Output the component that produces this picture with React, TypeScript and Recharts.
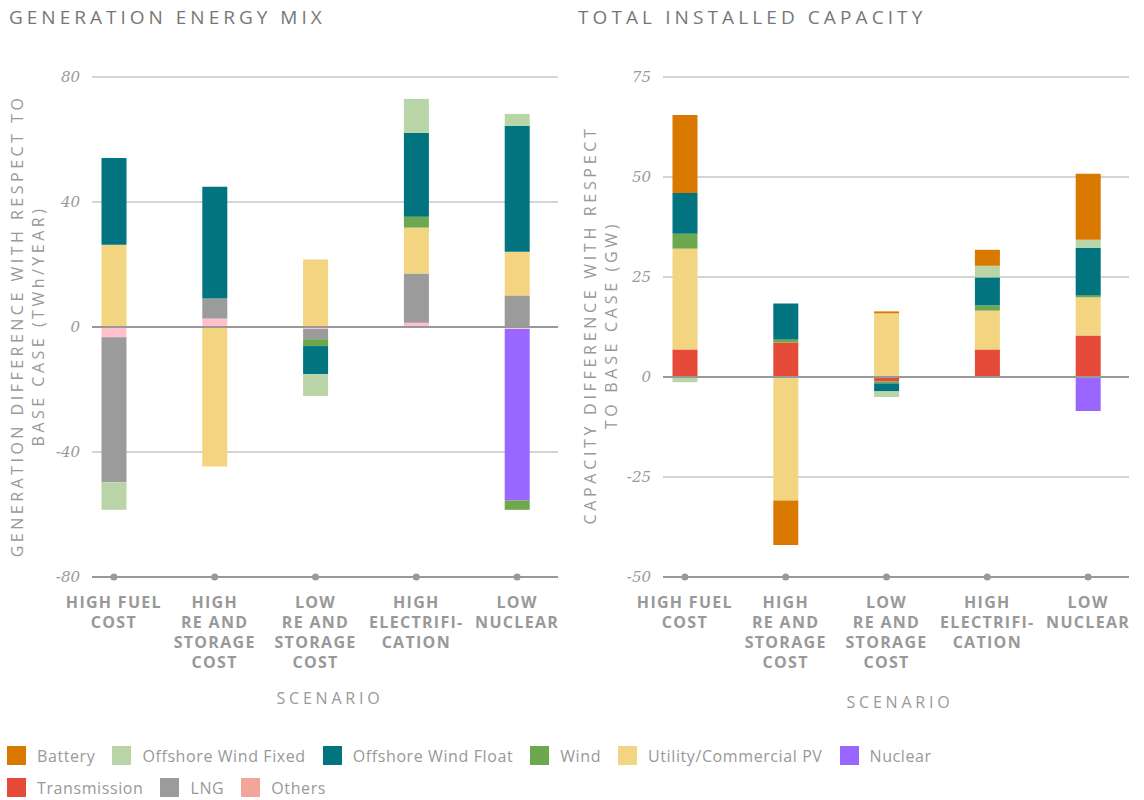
import { BarChart, Bar, XAxis, YAxis, CartesianGrid, ReferenceLine } from 'recharts'

const scenarios = ['HIGH FUEL COST', 'HIGH RE AND STORAGE COST', 'LOW RE AND STORAGE COST', 'HIGH ELECTRIFICATION', 'LOW NUCLEAR']
const scenarioLines = [
  ['HIGH FUEL', 'COST'],
  ['HIGH', 'RE AND', 'STORAGE', 'COST'],
  ['LOW', 'RE AND', 'STORAGE', 'COST'],
  ['HIGH', 'ELECTRIFI-', 'CATION'],
  ['LOW', 'NUCLEAR'],
]

// generation energy mix, TWh/year vs base case
const genOthers = [-3.3, 2.7, -0.6, 1.4, -0.6]
const genLng = [-46.4, 6.4, -3.3, 15.7, 10.1]
const genNuclear = [0, 0, 0, 0, -54.9]
const genPv = [26.3, -44.6, 21.6, 14.7, 14.0]
const genWind = [0, 0, -2.2, 3.5, -3.0]
const genFloat = [27.8, 35.8, -9.0, 26.8, 40.3]
const genFixed = [-8.8, 0, -7.0, 10.9, 3.8]
const genTicks = [-80, -40, 0, 40, 80]

// installed capacity, GW vs base case
const capTransmission = [6.9, 8.6, -1.1, 6.9, 10.4]
const capNuclear = [0, 0, 0, 0, -8.5]
const capPv = [25.2, -30.9, 15.9, 9.7, 9.5]
const capWind = [3.7, 0.8, -0.5, 1.3, 0.5]
const capFloat = [10.2, 9.0, -2.0, 7.0, 11.9]
const capFixed = [-1.3, 0, -1.4, 2.9, 2.0]
const capBattery = [19.5, -11.1, 0.5, 4.0, 16.5]
const capTicks = [-50, -25, 0, 25, 50, 75]

const COLORS = {
  battery: '#d97900',
  fixed: '#b9d5a8',
  float: '#017480',
  wind: '#6ea84e',
  pv: '#f3d480',
  nuclear: '#9966ff',
  transmission: '#e54b38',
  lng: '#9b9b9b',
  others: '#ffc0cb',
}

const legendItems = [
  [
    { name: 'Battery', color: COLORS.battery },
    { name: 'Offshore Wind Fixed', color: COLORS.fixed },
    { name: 'Offshore Wind Float', color: COLORS.float },
    { name: 'Wind', color: COLORS.wind },
    { name: 'Utility/Commercial PV', color: COLORS.pv },
    { name: 'Nuclear', color: COLORS.nuclear },
  ],
  [
    { name: 'Transmission', color: COLORS.transmission },
    { name: 'LNG', color: COLORS.lng },
    { name: 'Others', color: '#f4a59a' },
  ],
]

const SANS = '"Open Sans", Lato, sans-serif'
const SERIF = '"DejaVu Serif", "Liberation Serif", serif'

const genData = scenarios.map((s, i) => ({
  name: s,
  others: genOthers[i], lng: genLng[i], nuclear: genNuclear[i], pv: genPv[i],
  wind: genWind[i], float: genFloat[i], fixed: genFixed[i],
}))

const capData = scenarios.map((s, i) => ({
  name: s,
  transmission: capTransmission[i], nuclear: capNuclear[i], pv: capPv[i], wind: capWind[i],
  float: capFloat[i], fixed: capFixed[i], battery: capBattery[i],
}))

function ScenarioTick({ x, y, payload }: any) {
  const lines = scenarioLines[scenarios.indexOf(payload.value)] || []
  return (
    <g>
      <circle cx={x} cy={y} r={3.5} fill="#999" />
      <text x={x} y={y + 31} textAnchor="middle" fontFamily={SANS} fontWeight={700} fontSize={16} letterSpacing={1.3} fill="#999">
        {lines.map((l, i) => (
          <tspan key={i} x={x} dy={i === 0 ? 0 : 20}>{l}</tspan>
        ))}
      </text>
    </g>
  )
}

function StackChart({ data, keys, domain, ticks }: { data: any[]; keys: string[]; domain: [number, number]; ticks: number[] }) {
  return (
    <BarChart
      width={580}
      height={720}
      data={data}
      stackOffset="sign"
      margin={{ top: 77, right: 22, bottom: 0, left: 0 }}
      barSize={25}
    >
      <CartesianGrid vertical={false} stroke="#aaa" />
      <XAxis
        dataKey="name"
        height={143}
        padding={{ left: -28.5, right: -9.5 }}
        axisLine={{ stroke: '#999', strokeWidth: 2 }}
        tickLine={false}
        tickSize={0}
        tickMargin={0}
        interval={0}
        tick={<ScenarioTick />}
      />
      <YAxis
        width={92}
        domain={domain}
        ticks={ticks}
        axisLine={false}
        tickLine={false}
        tickMargin={6}
        tick={{ fill: '#999', fontSize: 15, fontStyle: 'italic', fontFamily: SERIF }}
      />
      {keys.map(k => (
        <Bar key={k} dataKey={k} stackId="a" fill={(COLORS as any)[k]} isAnimationActive={false} />
      ))}
      <ReferenceLine y={0} stroke="#999" strokeWidth={2} />
    </BarChart>
  )
}

export default function App() {
  return (
    <div style={{ position: 'absolute', left: 0, top: 0, width: 1144, height: 800, background: '#fff', fontFamily: SANS }}>
      <div style={{ position: 'absolute', left: 0, top: 0 }}>
        <StackChart data={genData} keys={['others', 'lng', 'nuclear', 'pv', 'wind', 'float', 'fixed']} domain={[-80, 80]} ticks={genTicks} />
      </div>
      <div style={{ position: 'absolute', left: 571, top: 0 }}>
        <StackChart data={capData} keys={['transmission', 'nuclear', 'pv', 'wind', 'float', 'fixed', 'battery']} domain={[-50, 75]} ticks={capTicks} />
      </div>

      <svg width={1144} height={800} style={{ position: 'absolute', left: 0, top: 0, pointerEvents: 'none' }}>
        <g fontFamily={SANS} fill="#777">
          <text x={9} y={24} fontSize={19} letterSpacing={4}>GENERATION ENERGY MIX</text>
          <text x={578} y={24} fontSize={19} letterSpacing={4.1}>TOTAL INSTALLED CAPACITY</text>
        </g>
        <g fontFamily={SANS} fill="#999" fontSize={16} textAnchor="middle">
          <text transform="translate(23 326) rotate(-90)" letterSpacing={3.5}>GENERATION DIFFERENCE WITH RESPECT TO</text>
          <text transform="translate(44 326) rotate(-90)" letterSpacing={3.5}>BASE CASE (TWh/YEAR)</text>
          <text transform="translate(596 325) rotate(-90)" letterSpacing={3.7}>CAPACITY DIFFERENCE WITH RESPECT</text>
          <text transform="translate(617 325) rotate(-90)" letterSpacing={3.7}>TO BASE CASE (GW)</text>
          <text x={330} y={704} letterSpacing={3.8}>SCENARIO</text>
          <text x={900} y={708} letterSpacing={3.8}>SCENARIO</text>
        </g>
      </svg>

      <div style={{ position: 'absolute', left: 7, top: 746 }}>
        {legendItems.map((row, r) => (
          <div key={r} style={{ display: 'flex', alignItems: 'center', height: 19, marginBottom: 13 }}>
            {row.map(it => (
              <div key={it.name} style={{ display: 'flex', alignItems: 'center', marginRight: 17 }}>
                <div style={{ width: 19, height: 19, background: it.color, marginRight: 11 }} />
                <span style={{ fontSize: 16, color: '#999', letterSpacing: 0.6 }}>{it.name}</span>
              </div>
            ))}
          </div>
        ))}
      </div>
    </div>
  )
}
